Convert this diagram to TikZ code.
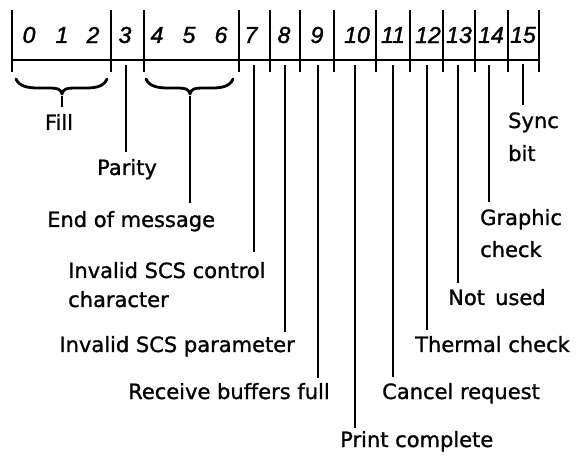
\documentclass[tikz,border=0pt]{standalone}
\usepackage{fontspec}
\setmainfont{DejaVu Sans}
\newfontfamily\lblfont[FakeBold=1.2]{DejaVu Sans}
\newfontfamily\digitfont[FakeBold=1.6]{Liberation Sans}
\tikzset{
  bar/.style={line width=2pt},
  conn/.style={line width=1.8pt},
  bracepath/.style={line width=2.8pt, line cap=round, line join=round},
  lbl/.style={font=\lblfont\fontsize{21}{25}\selectfont, inner sep=0pt},
  dig/.style={font=\digitfont\itshape\fontsize{23}{27}\selectfont, inner sep=0pt}
}
\begin{document}
\begin{tikzpicture}[x=1pt,y=-1pt]
\useasboundingbox (0,0) rectangle (576,457);
% register frame
\foreach \x in {12,111,144,239,270,300,334,376,410,443,475,508,539}
  \draw[bar] (\x,10) -- (\x,72);
\draw[bar] (12,60) -- (539,60);
% bit numbers
\node[dig] (d0) at (29,35) {0};
\node[dig] (d1) at (62,35) {1};
\node[dig] (d2) at (93,35) {2};
\node[dig] (d3) at (125,35) {3};
\node[dig] (d4) at (157,35) {4};
\node[dig] (d5) at (189,35) {5};
\node[dig] (d6) at (221,35) {6};
\node[dig] (d7) at (251,35) {7};
\node[dig] (d8) at (284,35) {8};
\node[dig] (d9) at (317,35) {9};
\node[dig] (d10) at (357,35) {10};
\node[dig] (d11) at (393,35) {11};
\node[dig] (d12) at (428,35) {12};
\node[dig] (d13) at (459,35) {13};
\node[dig] (d14) at (491,35) {14};
\node[dig] (d15) at (523,35) {15};
% braces
\draw[bracepath] (16,79) .. controls (19,86) and (27,88) .. (38,88) -- (50,88)
  .. controls (57,88) and (61,89) .. (62,94)
  .. controls (63,89) and (67,88) .. (74,88) -- (86,88)
  .. controls (97,88) and (104,86) .. (107,79);
\draw[bracepath] (146,79) .. controls (149,86) and (157,88) .. (168,88) -- (178,88)
  .. controls (185,88) and (189,89) .. (190,94)
  .. controls (191,89) and (195,88) .. (202,88) -- (212,88)
  .. controls (223,88) and (230,86) .. (233,79);
% labels
\node[lbl, anchor=base] (lfill) at (59,130) {Fill};
\node[lbl, anchor=base] (l3) at (127,175) {Parity};
\node[lbl, anchor=base west] (leom) at (47,227) {End of message};
\node[lbl, anchor=base west] (l7a) at (68,278) {Invalid SCS control};
\node[lbl, anchor=base west] (l7b) at (68,307) {character};
\node[lbl, anchor=base east] (l8) at (295,352) {Invalid SCS parameter};
\node[lbl, anchor=base west] (l9) at (128,399) {Receive buffers full};
\node[lbl, anchor=base west] (l10) at (340,447) {Print complete};
\node[lbl, anchor=base west] (l11) at (382,399) {Cancel request};
\node[lbl, anchor=base west] (l12) at (415,352) {Thermal check};
\node[lbl, anchor=base west] (l13) at (448,305) {Not\,\ used};
\node[lbl, anchor=base west] (l14a) at (480,225) {Graphic};
\node[lbl, anchor=base west] (l14b) at (480,257) {check};
\node[lbl, anchor=base west] (l15a) at (508,128) {Sync};
\node[lbl, anchor=base west] (l15b) at (508,161) {bit};
% connector ends
\coordinate (tfill) at (62,96);   \coordinate (bfill) at (62,107);
\coordinate (teom) at (190,96);   \coordinate (beom) at (190,203);
\coordinate (t3) at (126,65);     \coordinate (b3) at (126,152);
\coordinate (t7) at (254,65);     \coordinate (b7) at (254,252);
\coordinate (t8) at (285,65);     \coordinate (b8) at (285,332);
\coordinate (t9) at (318,65);     \coordinate (b9) at (318,378);
\coordinate (t10) at (355,65);    \coordinate (b10) at (355,428);
\coordinate (t11) at (393,65);    \coordinate (b11) at (393,377);
\coordinate (t12) at (427,65);    \coordinate (b12) at (427,330);
\coordinate (t13) at (458,65);    \coordinate (b13) at (458,283);
\coordinate (t14) at (489,65);    \coordinate (b14) at (489,202);
\coordinate (t15) at (523,64);    \coordinate (b15) at (523,105);
\foreach \n in {fill,eom,3,7,8,9,10,11,12,13,14,15}
  \draw[conn] (t\n) -- (b\n);
\end{tikzpicture}
\end{document}
